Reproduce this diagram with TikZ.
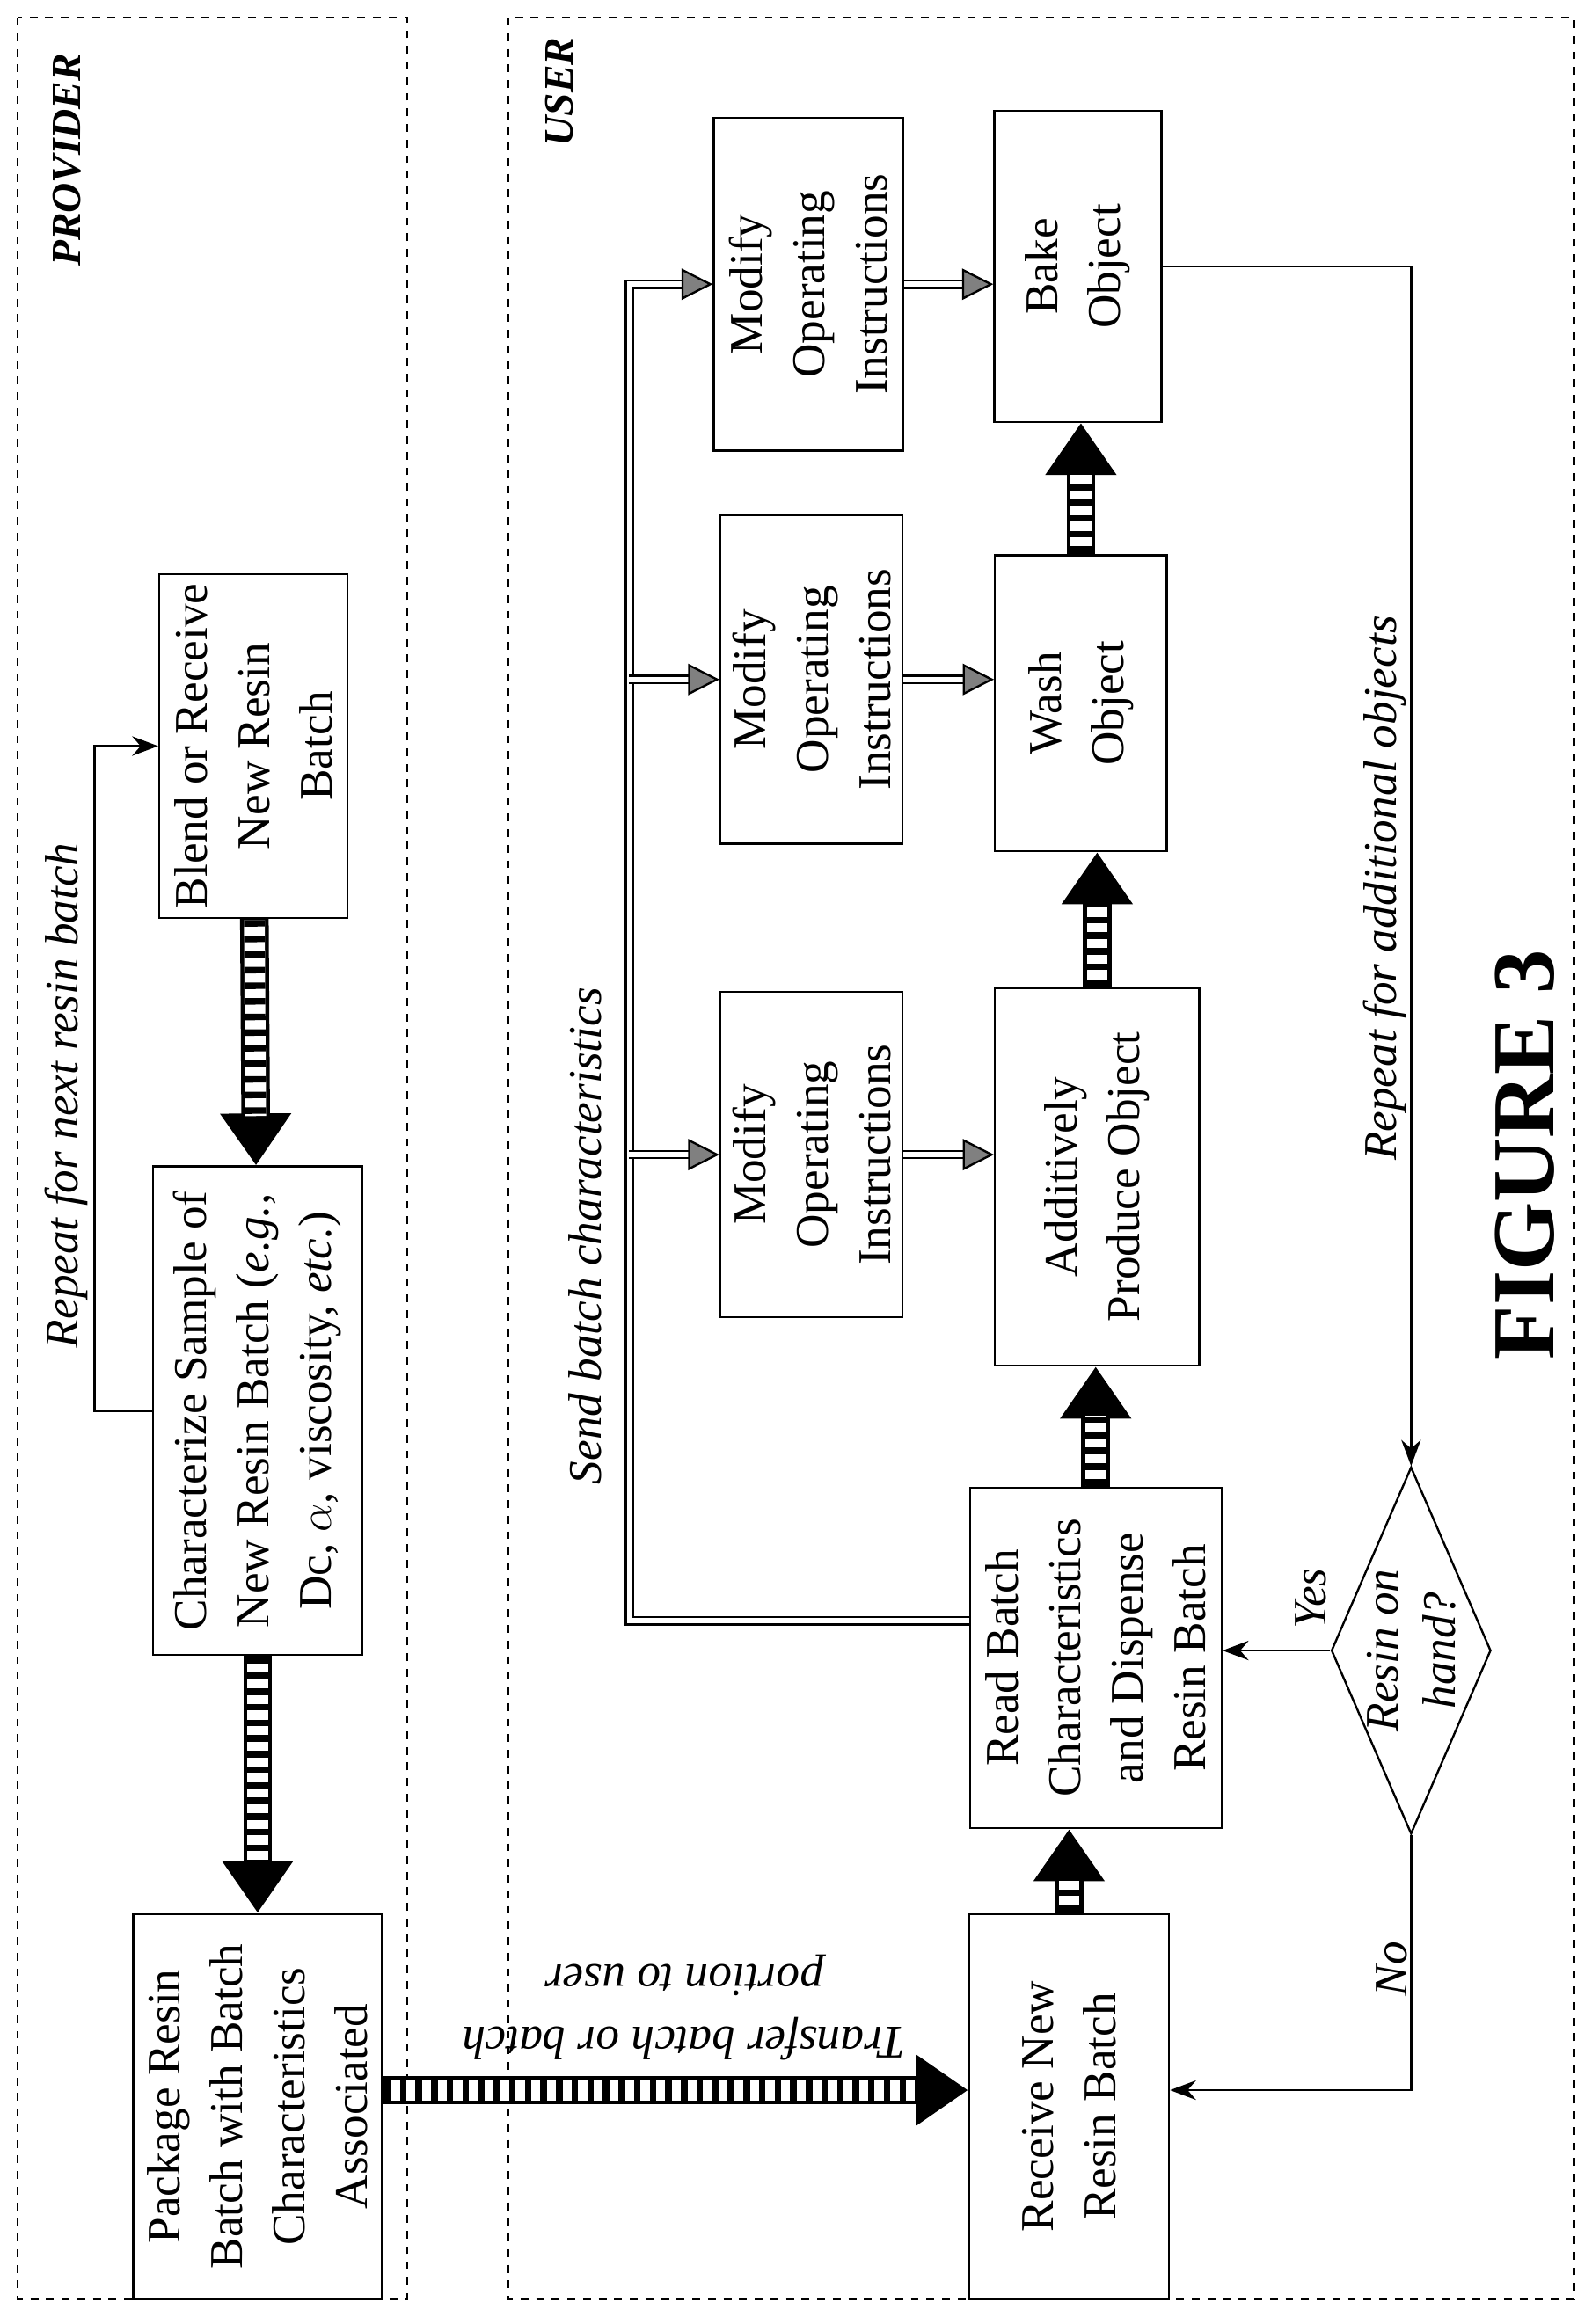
\documentclass[tikz,border=0pt]{standalone}
\usepackage{fontspec}
\setmainfont{Liberation Serif}
\usetikzlibrary{arrows.meta,shapes.geometric}

% hatched wide arrow
\newcommand\hatcharrow[1]{%
  \draw[line width=11pt, -{Triangle[length=20pt,width=26pt]}] #1;
  \draw[line width=8pt, white, shorten >=19pt, shorten <=0.5pt] #1;
  \draw[line width=8pt, dash pattern=on 2.5pt off 3.5pt, shorten >=19pt, shorten <=0.5pt] #1;}

\begin{document}
\begin{tikzpicture}[x=0.02cm, y=-0.02cm,
    box/.style={draw, thick, rectangle, rotate=90, align=center, inner sep=2pt,
      font=\fontsize{18}{24}\selectfont},
    lbl/.style={rotate=90, align=center, font=\fontsize{18}{24}\selectfont\itshape},
    dbl/.style={double, double distance=2pt, line width=0.8pt,
      -{Triangle[length=12pt,width=12pt,fill=gray]}},
    line/.style={thick, -{Stealth[length=10pt]}}]
  \useasboundingbox (0,0) rectangle (1075,1570);

  % Frames
  \draw[dashed, thick] (12,12) rectangle (275,1553);
  \draw[dashed, thick] (343,12) rectangle (1063,1553);
  \node[lbl, font=\fontsize{16}{20}\selectfont\bfseries\itshape] (prov) at (45,108) {PROVIDER};
  \node[lbl, font=\fontsize{16}{20}\selectfont\bfseries\itshape] (usr) at (378,62) {USER};

  % Provider side
  \node[box, minimum width=4.64cm, minimum height=2.54cm] (blend) at (171,504)
    {Blend or Receive\\New Resin\\Batch};
  \node[box, minimum width=6.6cm, minimum height=2.82cm] (char) at (174,953)
    {Characterize Sample of\\New Resin Batch (\textit{e.g.,}\\Dc, $\alpha$, viscosity, \textit{etc.})};
  \node[box, minimum width=5.2cm, minimum height=3.36cm] (pack) at (174,1423)
    {Package Resin\\Batch with Batch\\Characteristics\\Associated};

  % User side
  \node[box, minimum width=5.2cm, minimum height=2.7cm] (recv) at (722,1423)
    {Receive New\\Resin Batch};
  \node[box, minimum width=4.6cm, minimum height=3.4cm] (read) at (740,1120)
    {Read Batch\\Characteristics\\and Dispense\\Resin Batch};
  \node[box, minimum width=5.1cm, minimum height=2.76cm] (make) at (741,795)
    {Additively\\Produce Object};
  \node[box, minimum width=4.0cm, minimum height=2.32cm] (wash) at (730,475)
    {Wash\\Object};
  \node[box, minimum width=4.2cm, minimum height=2.26cm] (bake) at (728,180)
    {Bake\\Object};
  \node[box, minimum width=4.4cm, minimum height=2.46cm] (modA) at (548,780)
    {Modify\\Operating\\Instructions};
  \node[box, minimum width=4.44cm, minimum height=2.46cm] (modB) at (548,459)
    {Modify\\Operating\\Instructions};
  \node[box, minimum width=4.5cm, minimum height=2.56cm] (modC) at (546,192)
    {Modify\\Operating\\Instructions};
  \node[box, diamond, aspect=2.3, minimum width=4.4cm, minimum height=1.9cm, inner sep=0pt,
    font=\fontsize{18}{22}\selectfont\itshape] (onhand) at (953,1115) {Resin on\\hand?};

  % Hatched arrows
  \hatcharrow{(blend) -- (char)}
  \hatcharrow{(char) -- (pack)}
  \hatcharrow{(pack.south |- 0,1412) -- (recv.north |- 0,1412)}
  \hatcharrow{(recv.east) -- (recv.east |- read.west)}
  \hatcharrow{(read.east) -- (read.east |- make.west)}
  \hatcharrow{(make.east) -- (make.east |- wash.west)}
  \hatcharrow{(wash.east) -- (wash.east |- bake.west)}
  \node[rotate=180, align=center, font=\fontsize{18}{24}\selectfont\itshape] (xfer) at (462,1356)
    {Transfer batch or batch\\portion to user};

  % Repeat loop
  \draw[line] (char.north) -- ++(-39,0) |- (blend.north);
  \node[lbl] (rep1) at (45,740) {Repeat for next resin batch};

  % Batch characteristics
  \coordinate (bus) at (425,1095);
  \draw[dbl] (read.north |- bus) -- (bus) |- (modC.north);
  \draw[dbl] (bus |- modA.north) -- (modA.north);
  \draw[dbl] (bus |- modB.north) -- (modB.north);
  \node[lbl] (send) at (395,835) {Send batch characteristics};
  \draw[dbl] (modA.south) -- (modA.south -| make.north);
  \draw[dbl] (modB.south) -- (modB.south -| wash.north);
  \draw[dbl] (modC.south) -- (modC.south -| bake.north);

  % Decision loop
  \draw[line] (bake.south) -| (onhand.east);
  \node[lbl] (rep2) at (935,600) {Repeat for additional objects};
  \draw[line] (onhand.north) -- (onhand.north -| read.south);
  \node[lbl] (yes) at (885,1080) {Yes};
  \draw[line] (onhand.west) |- (recv.south |- 0,1412);
  \node[lbl] (no) at (940,1330) {No};

  \node[lbl, font=\fontsize{34}{40}\selectfont\bfseries] (fig) at (1030,780) {FIGURE 3};
\end{tikzpicture}
\end{document}
